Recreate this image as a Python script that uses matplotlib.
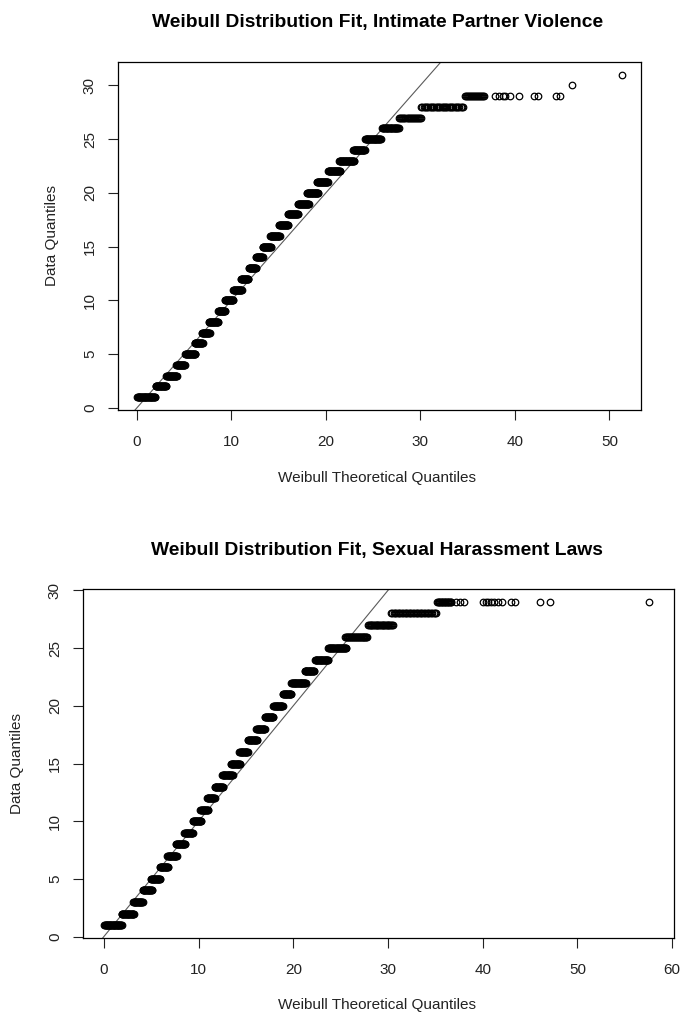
# Weibull QQ plots for two indicators, redrawn from the R output.
# Each data level (1..31) is a run of overlapping open circles; runs are
# stored as start/end theoretical quantiles.

import numpy as np
import matplotlib
matplotlib.use("Agg")
import matplotlib.pyplot as plt

plt.rcParams["font.family"] = ["Liberation Sans", "DejaVu Sans"]

# --- Intimate Partner Violence -------------------------------------------
ipv_levels = list(range(1, 30))
ipv_start = [0.03, 1.97, 3.13, 4.19, 5.10, 6.10, 6.90, 7.60, 8.60, 9.30,
             10.2, 11.0, 11.85, 12.6, 13.3, 14.1, 15.05, 16.0, 17.05, 18.0,
             19.06, 20.25, 21.4, 22.9, 24.15, 25.95, 27.75, 30.1, 34.7]
ipv_end = [1.93, 3.09, 4.22, 5.06, 6.20, 6.96, 7.70, 8.60, 9.35, 10.2,
           11.1, 11.8, 12.6, 13.3, 14.2, 15.1, 16.0, 17.05, 18.2, 19.2,
           20.2, 21.5, 23.0, 24.1, 25.8, 27.7, 30.1, 34.5, 36.7]
ipv_count = [40, 26, 26, 22, 26, 22, 20, 24, 20, 22,
             22, 20, 20, 18, 22, 24, 24, 26, 28, 28,
             28, 30, 36, 28, 34, 30, 22, 36, 20]
ipv_tail_y = [29, 29, 29, 29, 29, 29, 29, 29, 29, 29, 30, 31]
ipv_tail_x = [37.9, 38.3, 38.7, 39.0, 39.5, 40.4, 42.0, 42.4, 44.4, 44.8,
              46.0, 51.3]

# --- Sexual Harassment Laws ----------------------------------------------
sh_levels = list(range(1, 30))
sh_start = [0.05, 1.87, 3.10, 4.10, 4.97, 5.90, 6.70, 7.60, 8.50, 9.40,
            10.2, 10.9, 11.7, 12.5, 13.4, 14.3, 15.2, 16.1, 17.0, 17.9,
            18.9, 19.8, 21.2, 22.3, 23.7, 25.5, 27.9, 30.3, 35.2]
sh_end = [1.87, 3.18, 4.10, 5.10, 5.95, 6.80, 7.70, 8.60, 9.40, 10.3,
          11.0, 11.7, 12.6, 13.6, 14.4, 15.2, 16.2, 17.0, 17.9, 18.9,
          19.8, 21.3, 22.2, 23.7, 25.6, 27.8, 30.5, 35.1, 36.7]
sh_count = [40, 28, 22, 22, 22, 20, 22, 22, 20, 20,
            18, 18, 20, 24, 22, 20, 22, 20, 20, 22,
            20, 32, 22, 30, 36, 34, 30, 34, 20]
sh_tail_y = [29] * 15
sh_tail_x = [37.2, 37.6, 38.0, 40.0, 40.3, 40.6, 40.9, 41.2, 41.6, 42.0,
             43.0, 43.4, 46.1, 47.1, 57.6]

W, H = 681, 1017
fig = plt.figure(figsize=(W / 100, H / 100), dpi=100)


def px_axes(left, top, right, bottom):
    return fig.add_axes([left / W, 1 - bottom / H, (right - left) / W, (bottom - top) / H])


def qq_panel(ax, levels, starts, ends, counts, tail_x, tail_y, xlim, ylim, xticks, yticks):
    xs, ys = [], []
    for lev, a, b, n in zip(levels, starts, ends, counts):
        xs.append(np.linspace(a, b, n))
        ys.append(np.full(n, lev))
    xs.append(np.array(tail_x))
    ys.append(np.array(tail_y))
    ax.plot(np.concatenate(xs), np.concatenate(ys), "o", mfc="none", mec="black",
            ms=4.7, mew=0.9, zorder=3)
    ax.axline((0, 0), slope=1, color="#5a5a5a", lw=0.8, zorder=2)
    ax.set_xlim(*xlim)
    ax.set_ylim(*ylim)
    ax.set_xticks(xticks)
    ax.set_yticks(yticks)
    ax.tick_params(length=7.2, width=0.8, labelsize=11, pad=8, colors="#222222")
    ax.tick_params(axis="x", pad=11)
    ax.tick_params(axis="y", labelrotation=90)
    for lab in ax.get_yticklabels():
        lab.set_va("center")
    for s in ax.spines.values():
        s.set_linewidth(0.9)


ax1 = px_axes(118, 61.7, 641, 410)
qq_panel(ax1, ipv_levels, ipv_start, ipv_end, ipv_count, ipv_tail_x, ipv_tail_y,
         (-2.0, 53.35), (-0.2, 32.2), range(0, 51, 10), range(0, 31, 5))

ax2 = px_axes(83, 589, 674, 938)
qq_panel(ax2, sh_levels, sh_start, sh_end, sh_count, sh_tail_x, sh_tail_y,
         (-2.2, 60.2), (-0.12, 30.12), range(0, 61, 10), range(0, 31, 5))

fig.text(378 / W, 1 - 23 / H, "Weibull Distribution Fit, Intimate Partner Violence",
         ha="center", va="center", fontsize=13.9, fontweight="bold")
fig.text(377 / W, 1 - 550 / H, "Weibull Distribution Fit, Sexual Harassment Laws",
         ha="center", va="center", fontsize=13.9, fontweight="bold")

for x, y in [(377, 478), (377, 1005)]:
    fig.text(x / W, 1 - y / H, "Weibull Theoretical Quantiles", ha="center", va="center",
             fontsize=11, color="#222222")
for x, y in [(52, 236), (17, 763)]:
    fig.text(x / W, 1 - y / H, "Data Quantiles", ha="center", va="center",
             rotation=90, fontsize=11, color="#222222")

fig.savefig("out.png", dpi=100)
